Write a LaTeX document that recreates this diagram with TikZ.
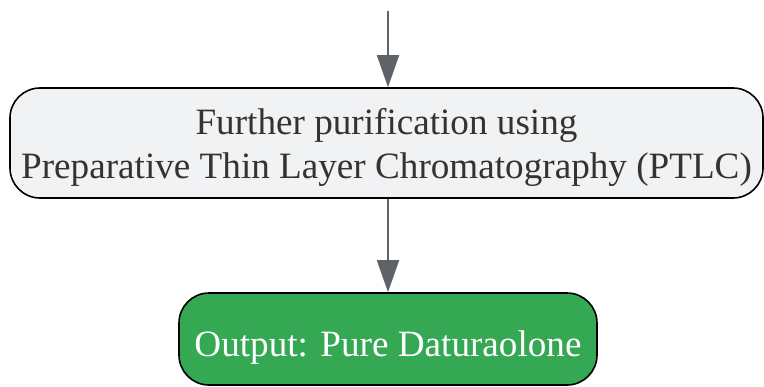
\documentclass[tikz,border=0pt]{standalone}
\usepackage{fontspec}
\setmainfont{Liberation Serif}
\usepackage{tikz}
\usetikzlibrary{positioning,arrows.meta}
\definecolor{StepGray}{HTML}{F1F2F4}
\definecolor{OutGreen}{HTML}{34A853}
\definecolor{ArrowGray}{HTML}{5F6368}
\definecolor{TextDark}{HTML}{333333}

\begin{document}
\begin{tikzpicture}[x=1bp, y=-1bp,
                % Styles
                stepbox/.style={rectangle, rounded corners=30bp, draw=black, line width=1.6bp, fill=StepGray, text=TextDark, align=center, font=\fontsize{37.3}{44}\selectfont, inner sep=0pt},
                outbox/.style={rectangle, rounded corners=30bp, draw=black, line width=1.6bp, fill=OutGreen, text=white, font=\fontsize{37.3}{44}\selectfont, inner sep=0pt, text height=44bp, text depth=9bp},
                % Connector
                flow/.style={-{Triangle[width=22bp,length=32bp]}, draw=ArrowGray, fill=ArrowGray, line width=1.8bp}
            ]
                \useasboundingbox (0,0) rectangle (764,386);

                % --- NODES ---
                \coordinate (in) at (388, 11);
                \node[stepbox, minimum width=753bp, minimum height=110bp] (ptlc) at (386.5, 143)
                    {\rule{0pt}{35bp}Further purification using\\Preparative Thin Layer Chromatography (PTLC)};
                \node[outbox, minimum width=418bp, minimum height=92bp] (pure) at (388, 339)
                    {Output: Pure Daturaolone};

                % --- EDGES ---
                \draw[flow] (in) -- (in |- ptlc.north);
                \draw[flow] (ptlc.south -| pure.north) -- (pure.north);

            \end{tikzpicture}
\end{document}
